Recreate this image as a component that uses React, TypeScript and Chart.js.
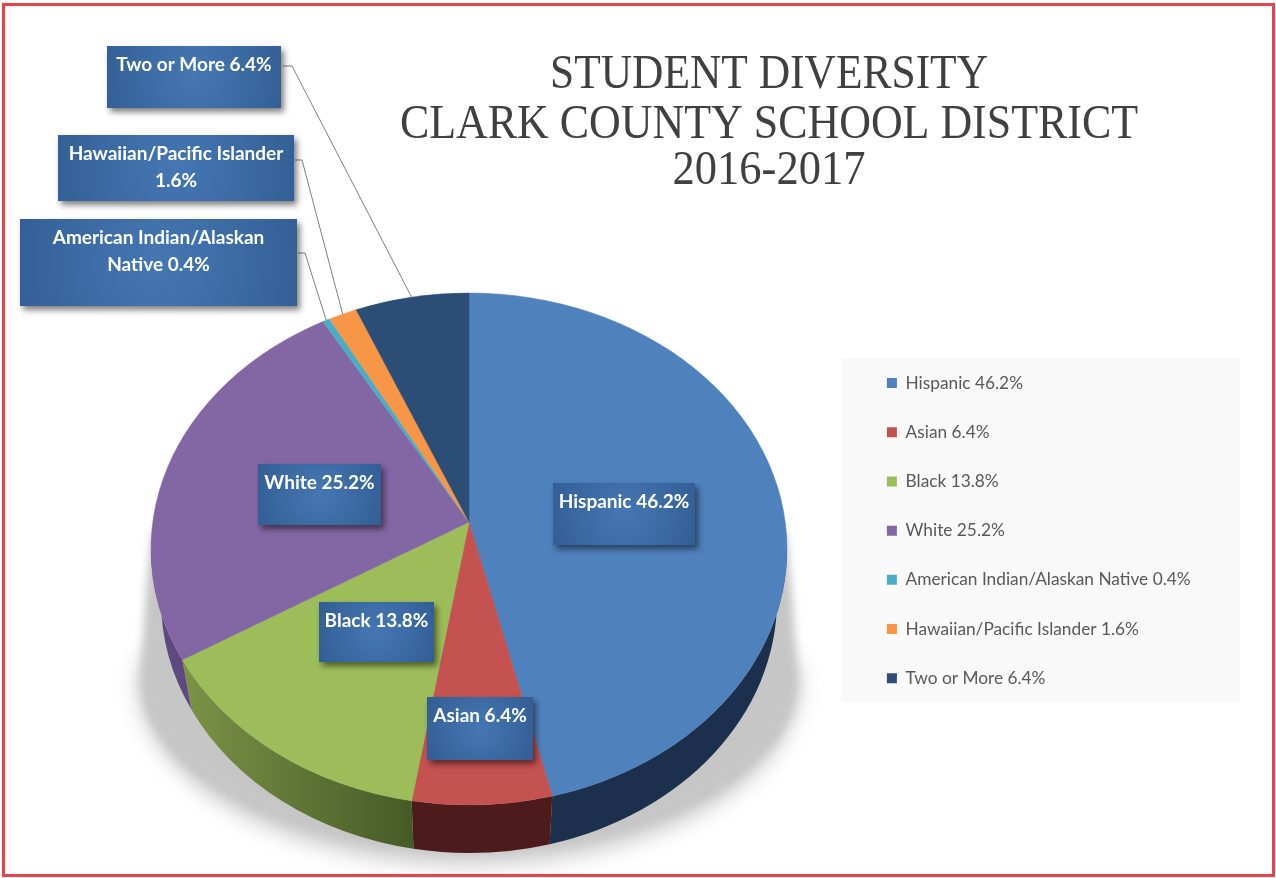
import React, { useEffect, useRef } from "react";
import { Chart, registerables } from "chart.js";

Chart.register(...registerables);

const categories = [
  "Hispanic",
  "Asian",
  "Black",
  "White",
  "American Indian/Alaskan Native",
  "Hawaiian/Pacific Islander",
  "Two or More",
];
const shares = [46.2, 6.4, 13.8, 25.2, 0.4, 1.6, 6.4];
const topColors = ["#4f81bd", "#c35251", "#9dbd5a", "#8366a4", "#4bacc6", "#f79646", "#2c4d75"];
const sideColors = ["#1c2f4c", "#4d1b1b", "#5a6e33", "#5f4a80", "#2a6475", "#8f5520", "#1a2e47"];
const titleLines = ["STUDENT DIVERSITY", "CLARK COUNTY SCHOOL DISTRICT", "2016-2017"];

const labelText = categories.map((c, i) => `${c} ${shares[i]}%`);

// Callout boxes, in the same order as the categories: left, top, right, bottom.
const calloutBoxes = [
  [553, 483, 695, 545],
  [427, 697, 533, 760],
  [319, 602, 434, 662],
  [258, 464, 381, 525],
  [20, 219, 297, 306],
  [58, 135, 294, 201],
  [107, 46, 281, 108],
];
// Leader lines start beside these boxes: [x, y] of the start and of the elbow.
const leaderStarts: Record<number, number[]> = {
  4: [298, 253, 305, 253],
  5: [295, 160, 302, 160],
  6: [283, 66, 292, 66],
};

// Tilted-disc look: vertical squash and vanishing shift of the hub.
const SQUASH = 256 / 318;
const HUB_SHIFT = -0.105;
// The underside of the disc is a slightly smaller ellipse, lower down.
const UNDER_DROP = 51;
const UNDER_RX = 10;
const UNDER_RY = 3;

const CALLOUT_FONT = "bold 19px Lato";
const TITLE_FONT = '48px "Liberation Serif"';
const titleWidths = [438, 738, 193];
const titleBaselines = [88, 138, 184];

// Maps a pie angle onto the ellipse's own parameter, foreshortening the far half.
function discAngle(a: number) {
  const x = Math.cos(a);
  const y = Math.sin(a);
  const den = 1 + HUB_SHIFT * y;
  const px = (x * Math.sqrt(1 - HUB_SHIFT * HUB_SHIFT)) / den;
  const py = (y + HUB_SHIFT) / den;
  return Math.atan2(py, px);
}

function wrap(ctx: CanvasRenderingContext2D, text: string, maxWidth: number) {
  const lines: string[] = [];
  let line = "";
  for (const word of text.split(" ")) {
    const next = line ? `${line} ${word}` : word;
    if (line && ctx.measureText(next).width > maxWidth) {
      lines.push(line);
      line = word;
    } else {
      line = next;
    }
  }
  lines.push(line);
  return lines;
}

const tiltedPie = {
  id: "tiltedPie",
  afterLayout(chart: any) {
    // The legend sits in its panel, right of the pie.
    const legend = chart.legend;
    const w = legend.width;
    const h = legend.height;
    legend.left = 855;
    legend.right = 855 + w;
    legend.top = 342.5;
    legend.bottom = 342.5 + h;
  },
  beforeDraw(chart: any) {
    const ctx = chart.ctx as CanvasRenderingContext2D;
    ctx.save();
    ctx.fillStyle = "#ffffff";
    ctx.fillRect(0, 0, chart.width, chart.height);
    ctx.fillStyle = "#f9f9fa";
    ctx.fillRect(841, 358, 399, 344);
    ctx.fillStyle = "#404040";
    ctx.font = TITLE_FONT;
    ctx.textAlign = "center";
    ctx.textBaseline = "alphabetic";
    titleLines.forEach((t, i) => ctx.fillText(t, 769, titleBaselines[i], titleWidths[i]));
    ctx.restore();
  },
  beforeDatasetsDraw(chart: any) {
    const ctx = chart.ctx as CanvasRenderingContext2D;
    const arcs = chart.getDatasetMeta(0).data;
    const cx: number = arcs[0].x;
    const cy: number = arcs[0].y;
    const rx: number = arcs[0].outerRadius;
    const ry = rx * SQUASH;
    const hubY = cy + HUB_SHIFT * ry;
    const spans = arcs.map((arc: any) => {
      const start = discAngle(arc.startAngle);
      let end = discAngle(arc.endAngle);
      while (end < start) end += Math.PI * 2;
      return [start, end];
    });

    // Cast shadow: a wide soft halo, then a tighter silhouette tapering up to the disc's widest point.
    const flareY = cy + 131;
    ctx.save();
    ctx.fillStyle = "#c6c6c6";
    ctx.filter = "blur(11px)";
    ctx.beginPath();
    ctx.ellipse(cx, flareY, rx + 12, 184, 0, 0, Math.PI);
    ctx.ellipse(cx, flareY, rx + 12, 100, 0, Math.PI, Math.PI * 2);
    ctx.closePath();
    ctx.fill();
    ctx.filter = "blur(4px)";
    ctx.beginPath();
    ctx.moveTo(cx - rx + 1, cy - 16);
    ctx.quadraticCurveTo(cx - rx - 7, cy + 50, cx - rx - 10, flareY);
    ctx.ellipse(cx, flareY, rx + 10, 170, 0, Math.PI, 0, true);
    ctx.quadraticCurveTo(cx + rx + 7, cy + 50, cx + rx - 1, cy - 16);
    ctx.closePath();
    ctx.fill();
    ctx.restore();

    // Rim of the near half.
    spans.forEach(([start, end]: number[], i: number) => {
      const a = Math.max(start, 0);
      const b = Math.min(end, Math.PI);
      if (b <= a) return;
      ctx.beginPath();
      ctx.ellipse(cx, cy, rx, ry, 0, a, b);
      ctx.ellipse(cx, cy + UNDER_DROP, rx - UNDER_RX, ry - UNDER_RY, 0, b, a, true);
      ctx.closePath();
      if (i === 2) {
        const g = ctx.createLinearGradient(185, 0, 412, 0);
        g.addColorStop(0, "#7b9247");
        g.addColorStop(1, "#465a26");
        ctx.fillStyle = g;
      } else {
        ctx.fillStyle = sideColors[i];
      }
      ctx.fill();
    });

    // Top face.
    spans.forEach(([start, end]: number[], i: number) => {
      ctx.beginPath();
      ctx.moveTo(cx, hubY);
      ctx.ellipse(cx, cy, rx, ry, 0, start, end);
      ctx.closePath();
      ctx.fillStyle = topColors[i];
      ctx.strokeStyle = topColors[i];
      ctx.lineWidth = 0.5;
      ctx.fill();
      ctx.stroke();
    });

    // Leader lines from the outside boxes to the middle of their slices.
    ctx.strokeStyle = "#7f7f7f";
    ctx.lineWidth = 1;
    Object.entries(leaderStarts).forEach(([key, p]) => {
      const [start, end] = spans[Number(key)];
      const mid = (start + end) / 2;
      ctx.beginPath();
      ctx.moveTo(p[0], p[1]);
      ctx.lineTo(p[2], p[3]);
      ctx.lineTo(cx + rx * Math.cos(mid), cy + ry * Math.sin(mid));
      ctx.stroke();
    });

    // Blue callouts with their values.
    calloutBoxes.forEach(([l, t, r, b], i) => {
      const w = r - l;
      const h = b - t;
      const g = ctx.createRadialGradient(l + w / 2, t + h / 2, 0, l + w / 2, t + h / 2, Math.max(w, h) * 0.6);
      g.addColorStop(0, "#4677b3");
      g.addColorStop(1, "#315c92");
      ctx.save();
      ctx.shadowColor = "rgba(0,0,0,0.5)";
      ctx.shadowBlur = 6;
      ctx.shadowOffsetX = 3;
      ctx.shadowOffsetY = 4;
      ctx.fillStyle = g;
      ctx.fillRect(l, t, w, h);
      ctx.restore();
      ctx.fillStyle = "#ffffff";
      ctx.font = CALLOUT_FONT;
      ctx.textAlign = "center";
      ctx.textBaseline = "middle";
      wrap(ctx, labelText[i], w - 8).forEach((line, n) => {
        ctx.fillText(line, l + w / 2, t + 19 + n * 27);
      });
    });
    return false;
  },
  afterDraw(chart: any) {
    // Red frame around the whole figure, over the shadow's lower edge.
    const ctx = chart.ctx as CanvasRenderingContext2D;
    ctx.save();
    ctx.fillStyle = "#ffffff";
    ctx.fillRect(0, 877, chart.width, 1);
    ctx.strokeStyle = "#e8434b";
    ctx.lineWidth = 3;
    ctx.strokeRect(3.5, 4.5, 1270, 871);
    ctx.restore();
  },
};

export default function App() {
  const ref = useRef<HTMLCanvasElement>(null);
  useEffect(() => {
    document.body.style.margin = "0";
    const chart = new Chart(ref.current as HTMLCanvasElement, {
      type: "pie",
      data: {
        labels: labelText,
        datasets: [{ data: shares, backgroundColor: topColors, borderWidth: 0 }],
      },
      options: {
        animation: false,
        responsive: false,
        layout: { padding: { left: 151, right: 489, top: 231, bottom: 11 } },
        plugins: {
          title: { display: false },
          tooltip: { enabled: false },
          legend: {
            display: true,
            position: "chartArea",
            align: "start",
            labels: {
              boxWidth: 10,
              boxHeight: 10,
              padding: 31.9,
              color: "#595959",
              font: { family: "Lato", size: 17.3 },
            },
          },
        },
      },
      plugins: [tiltedPie],
    } as any);
    return () => chart.destroy();
  }, []);
  return (
    <div style={{ width: 1276, height: 878 }}>
      <canvas ref={ref} width={1276} height={878} style={{ display: "block" }} />
    </div>
  );
}
